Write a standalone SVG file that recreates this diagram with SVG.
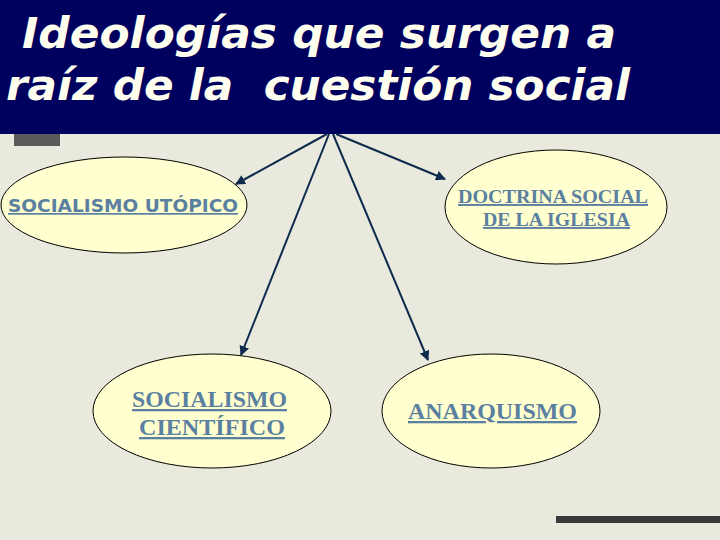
<svg xmlns="http://www.w3.org/2000/svg" width="720" height="540" viewBox="0 0 720 540">
<defs>
<style>
.title{font-family:"DejaVu Sans","Liberation Sans",sans-serif;font-weight:bold;font-style:italic;font-size:43px;fill:#fffff0}
.node ellipse{fill:#ffffcf;stroke:#000;stroke-width:1}
.sans{font-family:"DejaVu Sans","Liberation Sans",sans-serif;font-weight:bold;font-size:17px;fill:#5b7fa0;text-decoration:underline}
.serif{font-family:"Liberation Serif","Times New Roman",serif;font-weight:bold;fill:#5b7fa0;text-decoration:underline}
.conn line{stroke:#0e2a4c;stroke-width:2;marker-end:url(#ah)}
</style>
<marker id="ah" viewBox="0 0 10 10" refX="9" refY="5" markerWidth="5" markerHeight="5" orient="auto" markerUnits="strokeWidth">
<path d="M0,0 L10,5 L0,10 z" fill="#0e2a4c"/>
</marker>
</defs>
<rect x="0" y="0" width="720" height="540" fill="#eae9dd"/>
<g id="header">
<rect x="0" y="0" width="720" height="134" fill="#00005e"/>
<rect x="14" y="134" width="46" height="12" fill="#5a5a5a"/>
<text class="title" x="22" y="48" textLength="594" lengthAdjust="spacingAndGlyphs">Ideologías que surgen a</text>
<text class="title" x="6" y="100" textLength="624" lengthAdjust="spacingAndGlyphs" xml:space="preserve">raíz de la  cuestión social</text>
</g>
<rect x="556" y="516" width="164" height="7" fill="#3a3a3a"/>
<g class="conn" id="connectors">
<line x1="327" y1="134" x2="236" y2="184"/>
<line x1="329" y1="134" x2="241" y2="355"/>
<line x1="333" y1="134" x2="428" y2="360"/>
<line x1="336" y1="134" x2="445" y2="179"/>
</g>
<g class="node" id="socialismo-utopico">
<ellipse cx="124" cy="205" rx="123" ry="48"/>
<text class="sans" x="8" y="212" textLength="230" lengthAdjust="spacingAndGlyphs">SOCIALISMO UTÓPICO</text>
</g>
<g class="node" id="doctrina-social">
<ellipse cx="556" cy="207" rx="111" ry="57"/>
<text class="serif" x="458" y="203" font-size="19" textLength="190" lengthAdjust="spacingAndGlyphs">DOCTRINA SOCIAL</text>
<text class="serif" x="483" y="226" font-size="19" textLength="147" lengthAdjust="spacingAndGlyphs">DE LA IGLESIA</text>
</g>
<g class="node" id="socialismo-cientifico">
<ellipse cx="212" cy="411" rx="119" ry="57"/>
<text class="serif" x="132" y="407" font-size="23" textLength="155" lengthAdjust="spacingAndGlyphs">SOCIALISMO</text>
<text class="serif" x="139" y="435" font-size="23" textLength="146" lengthAdjust="spacingAndGlyphs">CIENTÍFICO</text>
</g>
<g class="node" id="anarquismo">
<ellipse cx="491" cy="411" rx="109" ry="57"/>
<text class="serif" x="408" y="419" font-size="23" textLength="169" lengthAdjust="spacingAndGlyphs">ANARQUISMO</text>
</g>
</svg>
